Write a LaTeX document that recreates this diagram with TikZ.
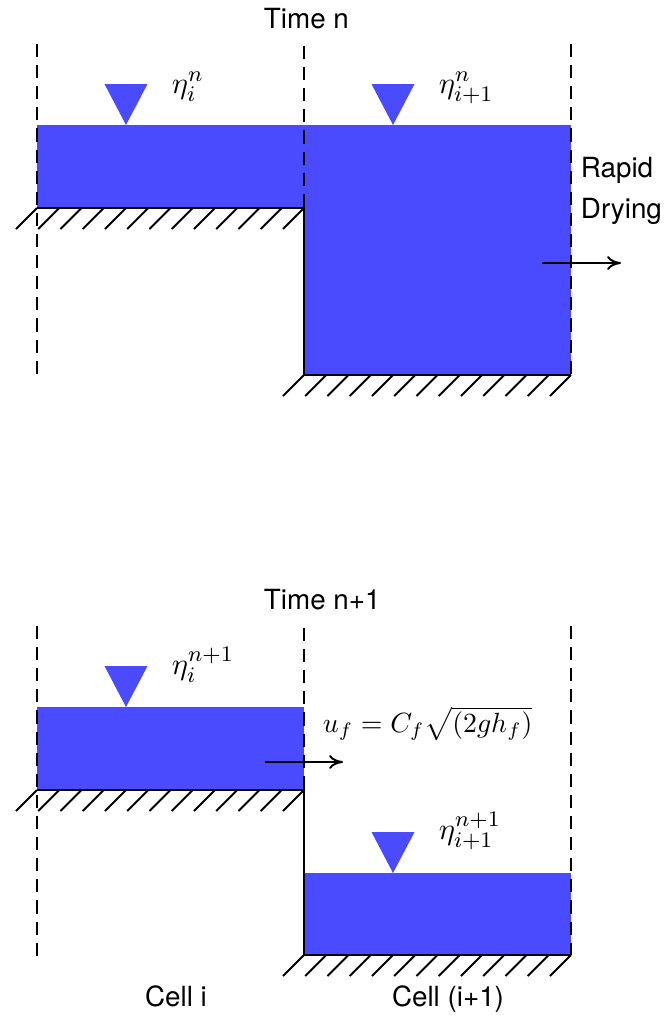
\documentclass[tikz,border=0pt]{standalone}
\usepackage{fontspec}
\usetikzlibrary{arrows.meta}
\newfontfamily\helv{TeX Gyre Heros}
\definecolor{water}{RGB}{74,74,255}
\begin{document}
\begin{tikzpicture}[x=0.36pt,y=-0.36pt,line width=0.7pt,
  cut/.style={dash pattern=on 4.7pt off 2.9pt},
  flow/.style={-{To[length=5pt,width=5pt]}},
  lbl/.style={font=\helv,inner sep=0pt,anchor=base},
  eta/.style={font=\fontsize{11}{13}\selectfont,inner sep=0pt,anchor=base west}]
\useasboundingbox(0,0)rectangle(665,1020);
% time n
\fill[water](37,125)rectangle(304,208);\fill[water](304,125)rectangle(571,375);
\draw[cut](37,44)--(37,375);\draw[cut](304,46)--(304,208);\draw[cut](571,44)--(571,375);
\draw(37,208)--(304,208)--(304,375)--(571,375);
\foreach \x in {0,...,12}{\draw(37+\x*22.25,208)--++(-21,21);\draw(304+\x*22.25,375)--++(-21,21);}
% time n+1
\fill[water](37,707)rectangle(304,790);\fill[water](304,873)rectangle(571,955);
\draw[cut](37,626)--(37,957);\draw[cut](304,628)--(304,790);\draw[cut](571,626)--(571,955);
\draw(37,790)--(304,790)--(304,955)--(571,955);
\foreach \x in {0,...,12}{\draw(37+\x*22.25,790)--++(-21,21);\draw(304+\x*22.25,955)--++(-21,21);}
% free surface marks
\foreach \x/\y in {126/125,393/125,126/707,393/873}{\fill[water](\x-21.5,\y-41)--(\x+21.5,\y-41)--(\x,\y)--cycle;}
\node[lbl,anchor=base west](tn)at(263,28){Time n};\node[lbl,anchor=base west](tnn)at(263,609){Time n+1};
\node[eta](etaA)at(171,93){$\eta_i^n$};\node[eta](etaB)at(438,93){$\eta_{i+1}^n$};
\node[eta](etaC)at(171,674){$\eta_i^{n+1}$};\node[eta](etaD)at(438,839){$\eta_{i+1}^{n+1}$};
\node[lbl,anchor=base west](rapid)at(580,177){Rapid};\node[lbl,anchor=base west](drying)at(580,218){Drying};
\node[eta,font=\normalsize](uf)at(322,732){$u_f=C_f\sqrt{(2gh_f)}$};
\node[lbl](celli)at(176,1006){Cell i};\node[lbl](cellj)at(448,1006){Cell (i+1)};
\coordinate(dryA)at(542,263);\coordinate(dryB)at(621,263);\draw[flow](dryA)--(dryB);
\coordinate(ufA)at(265,762);\coordinate(ufB)at(343,762);\draw[flow](ufA)--(ufB);
\end{tikzpicture}
\end{document}
